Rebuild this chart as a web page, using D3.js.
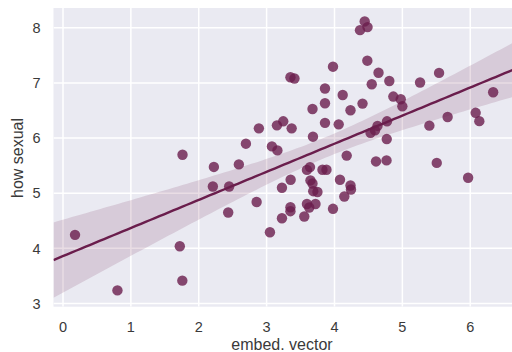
<!DOCTYPE html>
<html>
<head>
<meta charset="utf-8">
<script src="https://cdn.jsdelivr.net/npm/d3@7"></script>
<style>
  html, body { margin: 0; padding: 0; background: #fff; }
  svg { display: block; }
</style>
</head>
<body>
<div id="chart"></div>
<script>
// embed. vector vs how sexual — scatter + linear fit with 95% CI band

const xVals = [
  0.177, 0.802, 1.721, 1.758, 1.761, 2.223, 2.208, 2.448, 2.434, 2.591,
  2.695, 2.853, 2.886, 3.049, 3.078, 3.159, 3.152, 3.245, 3.369, 3.351,
  3.410, 3.226, 3.354, 3.226, 3.351, 3.351, 3.555, 3.594, 3.628, 3.720,
  3.646, 3.676, 3.687, 3.749, 3.594, 3.639, 3.823, 3.882, 3.683, 3.676,
  3.860, 3.860, 3.860, 3.978, 3.978, 4.062, 4.081, 4.121, 4.145, 4.180,
  4.236, 4.236, 4.243, 4.413, 4.376, 4.445, 4.487, 4.484, 4.549, 4.649,
  4.531, 4.597, 4.634, 4.774, 4.770, 4.612, 4.767, 4.808, 4.867, 4.976,
  5.000, 5.261, 5.541, 5.398, 5.507, 5.667, 5.969, 6.080, 6.134, 6.338,
];
const yVals = [
  4.244, 3.236, 4.036, 3.413, 5.698, 5.476, 5.122, 5.122, 4.649, 5.522,
  5.898, 4.840, 6.176, 4.291, 5.849, 5.776, 6.231, 6.304, 6.176, 7.104,
  7.080, 5.098, 5.244, 4.545, 4.745, 4.673, 4.576, 4.804, 4.740, 4.804,
  5.231, 5.176, 5.036, 5.022, 5.422, 5.473, 5.425, 5.425, 6.025, 6.527,
  6.900, 6.631, 6.276, 7.295, 4.716, 6.249, 5.244, 6.782, 4.940, 5.682,
  6.504, 5.140, 5.067, 6.625, 7.958, 8.116, 8.013, 7.404, 6.976, 7.185,
  6.095, 6.140, 6.222, 6.304, 5.982, 5.576, 5.595, 7.035, 6.753, 6.704,
  6.576, 7.009, 7.182, 6.225, 5.549, 6.382, 5.280, 6.458, 6.307, 6.831,
];
const xTicks = [0, 1, 2, 3, 4, 5, 6];
const yTicks = [3, 4, 5, 6, 7, 8];
const xLabel = 'embed. vector';
const yLabel = 'how sexual';

const W = 512, H = 352;
const margin = { left: 53.5, top: 8, right: -2, bottom: 45.3 };
const color = '#6a1d4c';
const textColor = '#3a3a3a';

const points = xVals.map((x, i) => ({ x, y: yVals[i] }));

const svg = d3.select('#chart')
  .append('svg')
  .attr('width', W)
  .attr('height', H)
  .style('font-family', '"Liberation Sans", Arial, sans-serif');

const x = d3.scaleLinear().domain([-0.14, 6.645]).range([margin.left, W - margin.right]);
const y = d3.scaleLinear().domain([2.94, 8.36]).range([H - margin.bottom, margin.top]);

const clipId = 'plotclip';
svg.append('clipPath').attr('id', clipId)
  .append('rect')
  .attr('x', margin.left).attr('y', margin.top)
  .attr('width', W - margin.right - margin.left)
  .attr('height', H - margin.bottom - margin.top);

// background
svg.append('rect')
  .attr('x', margin.left).attr('y', margin.top)
  .attr('width', W - margin.right - margin.left)
  .attr('height', H - margin.bottom - margin.top)
  .attr('fill', '#eaeaf2');

// grid
const grid = svg.append('g').attr('clip-path', `url(#${clipId})`);
grid.selectAll('line.gx').data(xTicks).join('line')
  .attr('x1', (d) => x(d)).attr('x2', (d) => x(d))
  .attr('y1', margin.top).attr('y2', H - margin.bottom)
  .attr('stroke', '#fff').attr('stroke-width', 1.5);
grid.selectAll('line.gy').data(yTicks).join('line')
  .attr('y1', (d) => y(d)).attr('y2', (d) => y(d))
  .attr('x1', margin.left).attr('x2', W - margin.right)
  .attr('stroke', '#fff').attr('stroke-width', 1.5);

// linear fit + analytic 95% CI of the mean
const n = points.length;
const mx = d3.mean(xVals), my = d3.mean(yVals);
const sxx = d3.sum(xVals, (v) => (v - mx) ** 2);
const sxy = d3.sum(points, (p) => (p.x - mx) * (p.y - my));
const b1 = sxy / sxx, b0 = my - b1 * mx;
const sse = d3.sum(points, (p) => (p.y - (b0 + b1 * p.x)) ** 2);
const s = Math.sqrt(sse / (n - 2));
const tcrit = 1.991;
const grid100 = d3.range(101).map((i) => x.domain()[0] + (x.domain()[1] - x.domain()[0]) * i / 100);
const band = grid100.map((gx) => {
  const fit = b0 + b1 * gx;
  const se = s * Math.sqrt(1 / n + (gx - mx) ** 2 / sxx);
  return { x: gx, fit, lo: fit - tcrit * se, hi: fit + tcrit * se };
});

const plot = svg.append('g').attr('clip-path', `url(#${clipId})`);

plot.append('path')
  .datum(band)
  .attr('fill', color)
  .attr('fill-opacity', 0.15)
  .attr('d', d3.area().x((d) => x(d.x)).y0((d) => y(d.lo)).y1((d) => y(d.hi)));

plot.selectAll('circle').data(points).join('circle')
  .attr('cx', (d) => x(d.x))
  .attr('cy', (d) => y(d.y))
  .attr('r', 5.2)
  .attr('fill', color)
  .attr('fill-opacity', 0.8);

plot.append('path')
  .datum(band)
  .attr('fill', 'none')
  .attr('stroke', color)
  .attr('stroke-width', 2.4)
  .attr('d', d3.line().x((d) => x(d.x)).y((d) => y(d.fit)));

// tick labels
svg.selectAll('text.xt').data(xTicks).join('text')
  .attr('x', (d) => x(d))
  .attr('y', H - margin.bottom + 25.5)
  .attr('text-anchor', 'middle')
  .attr('fill', textColor)
  .style('font-size', '14.5px')
  .text((d) => d);
svg.selectAll('text.yt').data(yTicks).join('text')
  .attr('x', margin.left - 13)
  .attr('y', (d) => y(d))
  .attr('dy', '0.36em')
  .attr('text-anchor', 'end')
  .attr('fill', textColor)
  .style('font-size', '14.5px')
  .text((d) => d);

// axis labels
svg.append('text')
  .attr('x', 282)
  .attr('y', H - 2)
  .attr('text-anchor', 'middle')
  .attr('fill', textColor)
  .style('font-size', '16px')
  .text(xLabel);
svg.append('text')
  .attr('transform', `translate(23,${158}) rotate(-90)`)
  .attr('text-anchor', 'middle')
  .attr('fill', textColor)
  .style('font-size', '16px')
  .text(yLabel);
</script>
</body>
</html>
